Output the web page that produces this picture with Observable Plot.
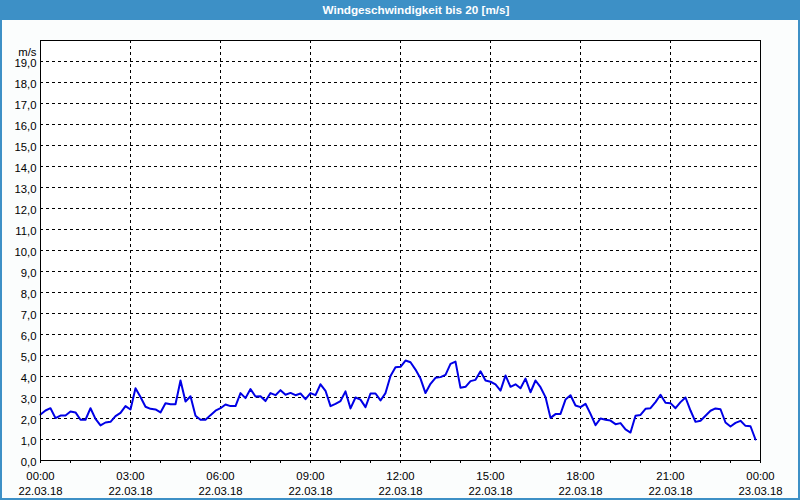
<!DOCTYPE html>
<html>
<head>
<meta charset="utf-8">
<script src="https://cdn.jsdelivr.net/npm/d3@7"></script>
<script src="https://cdn.jsdelivr.net/npm/@observablehq/plot@0.6"></script>
<style>
  html, body { margin: 0; padding: 0; background: #fbfdfd; }
  #win { width: 800px; height: 500px; box-sizing: border-box; border: 2px solid #3d90c6; border-top: 0; background: #fbfdfd; overflow: hidden; }
  #title { height: 20px; margin: 0 -2px; background: #3d90c6; color: #fff; font: bold 11.7px "Liberation Sans", Arial, sans-serif; line-height: 20px; text-align: center; padding-left: 32px; }
  #chart svg { display: block; }
</style>
</head>
<body>
<div id="win">
  <div id="title">Windgeschwindigkeit bis 20 [m/s]</div>
  <div id="chart"></div>
</div>
<script>
// wind speed (m/s), one value every 10 minutes from 22.03.18 00:00 to 23:50
const speed00to06 = [2.19,2.38,2.49,2.02,2.14,2.14,2.33,2.29,1.94,1.94,2.49,1.98,1.67,1.81,1.84,2.11,2.27,2.59,2.43,3.44,3.02,2.56,2.46,2.43,2.29,2.73,2.68,2.68,3.81,2.81,3.06,2.13,1.94,1.94,2.16,2.37];
const speed06to12 = [2.49,2.67,2.59,2.59,3.21,2.97,3.40,3.05,3.06,2.83,3.21,3.11,3.35,3.13,3.22,3.11,3.19,2.92,3.21,3.11,3.63,3.32,2.59,2.70,2.83,3.29,2.48,3.00,2.90,2.54,3.19,3.19,2.86,3.21,4.02,4.44];
const speed12to18 = [4.46,4.76,4.68,4.33,3.90,3.21,3.65,3.94,3.97,4.08,4.60,4.71,3.46,3.51,3.78,3.84,4.25,3.81,3.75,3.62,3.33,4.05,3.51,3.63,3.44,3.90,3.25,3.81,3.49,3.02,2.03,2.21,2.22,2.90,3.11,2.62];
const speed18to24 = [2.54,2.70,2.22,1.68,2.00,1.94,1.90,1.73,1.78,1.48,1.33,2.13,2.17,2.46,2.49,2.78,3.13,2.75,2.73,2.49,2.78,3.00,2.38,1.84,1.89,2.13,2.37,2.48,2.44,1.81,1.62,1.79,1.89,1.65,1.63,1.00];
const stepMinutes = 10;

const xTickHours = [0, 3, 6, 9, 12, 15, 18, 21, 24];
const xTickTimes = ["00:00","03:00","06:00","09:00","12:00","15:00","18:00","21:00","00:00"];
const xTickDates = ["22.03.18","22.03.18","22.03.18","22.03.18","22.03.18","22.03.18","22.03.18","22.03.18","23.03.18"];
const hourTicks = d3.range(0, 25);
const yTicks = d3.range(0, 20);
const yUnit = "m/s";

const values = [...speed00to06, ...speed06to12, ...speed12to18, ...speed18to24];
const data = values.map((v, i) => ({h: i * stepMinutes / 60, v}));

const timeOf = new Map(xTickHours.map((h, i) => [h, xTickTimes[i]]));
const dateOf = new Map(xTickHours.map((h, i) => [h, xTickDates[i]]));

const dash = "3,3";
const plot = Plot.plot({
  width: 796,
  height: 478,
  marginLeft: 38,
  marginRight: 38,
  marginTop: 20,
  marginBottom: 38,
  style: {fontFamily: '"Liberation Sans", Arial, sans-serif', fontSize: "11.3px", background: "#fbfdfd", color: "black"},
  x: {domain: [0, 24], axis: null},
  y: {domain: [0, 20], axis: null},
  marks: [
    Plot.frame({fill: "white"}),
    Plot.gridY(yTicks.filter(d => d > 0), {stroke: "black", strokeOpacity: 1, strokeDasharray: dash}),
    Plot.gridX(xTickHours.filter(d => d > 0 && d < 24), {stroke: "black", strokeOpacity: 1, strokeDasharray: dash}),
    Plot.axisY(yTicks, {tickSize: 0, tickPadding: 4, dy: 2, tickFormat: d => d.toFixed(1).replace(".", ","), label: null, fill: "black"}),
    Plot.text([yUnit], {frameAnchor: "top-left", textAnchor: "end", dx: -4, dy: 7, fill: "black"}),
    Plot.axisX(hourTicks, {tickSize: 3, tickFormat: () => "", label: null, stroke: "black"}),
    Plot.axisX(xTickHours, {tickSize: 0, tickPadding: 11, tickFormat: d => timeOf.get(d), label: null, fill: "black"}),
    Plot.axisX(xTickHours, {tickSize: 0, tickPadding: 26, tickFormat: d => dateOf.get(d), label: null, fill: "black"}),
    Plot.line(data, {x: "h", y: "v", stroke: "#0000e6", strokeWidth: 2}),
    Plot.frame({stroke: "black"})
  ]
});
document.getElementById("chart").appendChild(plot);
</script>
</body>
</html>
